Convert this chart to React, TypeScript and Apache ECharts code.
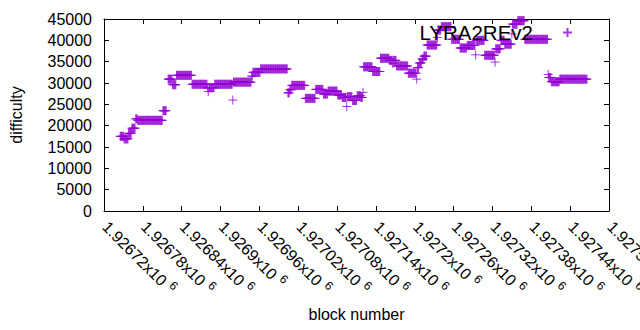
import React, { useEffect, useRef } from "react";
import * as echarts from "echarts";

// Runs of consecutive blocks that share the same difficulty
const blockStart = [
  1926745, 1926751, 1926758, 1926763, 1926769, 1926772, 1926811, 1926819, 1926826, 1926832,
  1926856, 1926880, 1926881, 1926882, 1926891, 1926919, 1926920, 1926948, 1926950, 1926962,
  1927004, 1927007, 1927010, 1927031, 1927047, 1927059, 1927066, 1927081, 1927088, 1927095,
  1927096, 1927104, 1927111, 1927117, 1927120, 1927121, 1927135, 1927147, 1927161, 1927166,
  1927167, 1927172, 1927190, 1927203, 1927204, 1927207, 1927211, 1927214, 1927219, 1927235,
  1927236, 1927241, 1927257, 1927270, 1927281, 1927294, 1927295, 1927308, 1927324, 1927325,
  1927333, 1927339, 1927350, 1927351, 1927359, 1927370, 1927406, 1927407, 1927411, 1927424,
];
const blockEnd = [
  1926750, 1926757, 1926762, 1926768, 1926771, 1926810, 1926816, 1926825, 1926831, 1926855,
  1926879, 1926880, 1926881, 1926890, 1926918, 1926919, 1926947, 1926949, 1926961, 1927003,
  1927006, 1927009, 1927030, 1927046, 1927058, 1927065, 1927080, 1927087, 1927094, 1927095,
  1927103, 1927110, 1927116, 1927119, 1927120, 1927134, 1927146, 1927160, 1927165, 1927166,
  1927171, 1927189, 1927202, 1927203, 1927206, 1927210, 1927213, 1927218, 1927234, 1927235,
  1927240, 1927256, 1927269, 1927280, 1927293, 1927294, 1927307, 1927323, 1927324, 1927332,
  1927338, 1927349, 1927350, 1927358, 1927369, 1927405, 1927406, 1927410, 1927423, 1927466,
];
const difficulty = [
  17500, 16900, 18200, 19400, 21600, 21250, 23500, 30900, 29600, 31800,
  29700, 28900, 28000, 28900, 29700, 26000, 30200, 31600, 32500, 33300,
  27700, 28400, 29450, 26400, 28500, 27400, 28100, 27200, 26600, 24500,
  26800, 25900, 27000, 26600, 27800, 33800, 32700, 35800, 35300, 34600,
  35300, 34000, 32300, 30900, 33600, 34700, 35600, 36300, 38900, 40700,
  42400, 43200, 40240, 38200, 38800, 36600, 40000, 36500, 34900, 38000,
  40000, 39100, 41500, 43800, 44600, 40240, 32000, 31300, 30300, 30900,
];

const seriesName = "LYRA2REv2";
const xMin = 1926720;
const xMax = 1927500;
const xStep = 60;
const yMin = 0;
const yMax = 45000;
const yStep = 5000;

const FONT = "'Liberation Sans', Arial, sans-serif";
const PURPLE = "#9400d3";
const PLUS = "path://M0,5L10,5M5,0L5,10";

export default function App() {
  const ref = useRef<HTMLDivElement>(null);
  useEffect(() => {
    if (!ref.current) return;
    const chart = echarts.init(ref.current, undefined, { renderer: "svg" });
    const data: number[][] = [];
    for (let i = 0; i < blockStart.length; i++) {
      for (let b = blockStart[i]; b <= blockEnd[i]; b++) data.push([b, difficulty[i]]);
    }
    const fmtX = (v: number) => {
      const s = String(Number((v / 1e6).toPrecision(6)));
      return `{m|${s}x10}{s|6}`;
    };
    const axisLine = { show: true, onZero: false, lineStyle: { color: "#000", width: 1 } };
    const axisTick = { show: true, inside: true, length: 5, lineStyle: { color: "#000" } };
    chart.setOption({
      animation: false,
      grid: { left: 104, right: 31, top: 19, bottom: 119, containLabel: false, outerBoundsMode: "none" },
      legend: {
        show: true,
        data: [seriesName],
        right: 62,
        top: 17,
        align: "right",
        itemWidth: 9,
        itemHeight: 9,
        selectedMode: false,
        formatter: "{a|{name}}",
        textStyle: {
          color: "#000",
          fontFamily: FONT,
          fontSize: 20.5,
          rich: { a: { fontSize: 20.5, fontFamily: FONT, color: "#000", padding: [0, 25, 0, 0] } },
        },
      },
      xAxis: [
        {
          type: "value",
          position: "bottom",
          min: xMin,
          max: xMax,
          interval: xStep,
          axisLine,
          axisTick,
          splitLine: { show: false },
          axisLabel: {
            rotate: -45,
            margin: 10,
            showMinLabel: true,
            showMaxLabel: true,
            color: "#000",
            fontFamily: FONT,
            formatter: fmtX,
            rich: {
              m: { fontSize: 16, fontFamily: FONT, color: "#000", lineHeight: 19, verticalAlign: "bottom", padding: [0, 0, 0, 3] },
              s: { fontSize: 12, fontFamily: FONT, color: "#000", lineHeight: 12, verticalAlign: "top", padding: [0, 0, 0, 5] },
            },
          },
          name: "block number",
          nameLocation: "middle",
          nameGap: 95,
          nameTextStyle: { color: "#000", fontFamily: FONT, fontSize: 16 },
        },
        {
          type: "value",
          position: "top",
          min: xMin,
          max: xMax,
          interval: xStep,
          axisLine,
          axisTick,
          splitLine: { show: false },
          axisLabel: { show: false },
        },
      ],
      yAxis: [
        {
          type: "value",
          position: "left",
          min: yMin,
          max: yMax,
          interval: yStep,
          axisLine,
          axisTick,
          splitLine: { show: false },
          axisLabel: {
            margin: 12,
            color: "#000",
            fontFamily: FONT,
            fontSize: 16,
            formatter: (v: number) => String(v),
          },
          name: "difficulty",
          nameLocation: "middle",
          nameGap: 80,
          nameTextStyle: { color: "#000", fontFamily: FONT, fontSize: 16 },
        },
        {
          type: "value",
          position: "right",
          min: yMin,
          max: yMax,
          interval: yStep,
          axisLine,
          axisTick,
          splitLine: { show: false },
          axisLabel: { show: false },
        },
      ],
      series: [
        {
          type: "scatter",
          name: seriesName,
          xAxisIndex: 0,
          yAxisIndex: 0,
          data,
          symbol: PLUS,
          symbolSize: 9,
          itemStyle: { color: PURPLE, borderColor: PURPLE, borderWidth: 1 },
          emphasis: { disabled: true },
          clip: false,
        },
      ],
    });
    return () => chart.dispose();
  }, []);
  return <div ref={ref} style={{ width: 640, height: 330, position: "absolute", left: 0, top: 0 }} />;
}
